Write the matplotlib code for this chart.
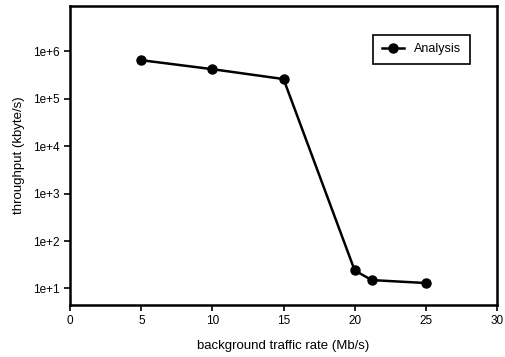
import math

import matplotlib.pyplot as plt
from matplotlib.ticker import FixedLocator, FuncFormatter, NullLocator

# traffic rate (Mb/s) vs. throughput (kbyte/s)
rate = [5, 10, 15, 20, 21.2, 25]
throughput = [6.5e5, 4.2e5, 2.6e5, 24, 15, 13]

x_ticks = [0, 5, 10, 15, 20, 25, 30]
y_ticks = [1e1, 1e2, 1e3, 1e4, 1e5, 1e6]

plt.rcParams['font.family'] = ['Liberation Sans', 'DejaVu Sans']

fig = plt.figure(figsize=(5.05, 3.57), dpi=100)
ax = fig.add_axes([0.139, 0.146, 0.845, 0.837])

ax.plot(rate, throughput, '-o', color='black', lw=1.8, ms=6.5,
        label='Analysis')

ax.set_yscale('log')
ax.set_xlim(0, 30)
ax.set_ylim(4.5, 9e6)
ax.xaxis.set_major_locator(FixedLocator(x_ticks))
ax.yaxis.set_major_locator(FixedLocator(y_ticks))
ax.yaxis.set_minor_locator(NullLocator())
ax.yaxis.set_major_formatter(
    FuncFormatter(lambda v, pos: f"1e+{int(round(math.log10(v)))}"))

ax.tick_params(direction='out', length=4, width=1.2, labelsize=8.5,
               top=False, right=False)
for side in ax.spines.values():
    side.set_linewidth(1.8)

ax.set_xlabel('background traffic rate (Mb/s)', fontsize=9.5, labelpad=9)
ax.set_ylabel('throughput (kbyte/s)', fontsize=9.5, labelpad=6)

leg = ax.legend(loc='upper right', bbox_to_anchor=(0.952, 0.925),
                fontsize=9, fancybox=False, framealpha=1,
                edgecolor='black', handlelength=1.8, borderpad=0.7)
leg.get_frame().set_linewidth(1.2)

fig.savefig('out.png', dpi=100)
